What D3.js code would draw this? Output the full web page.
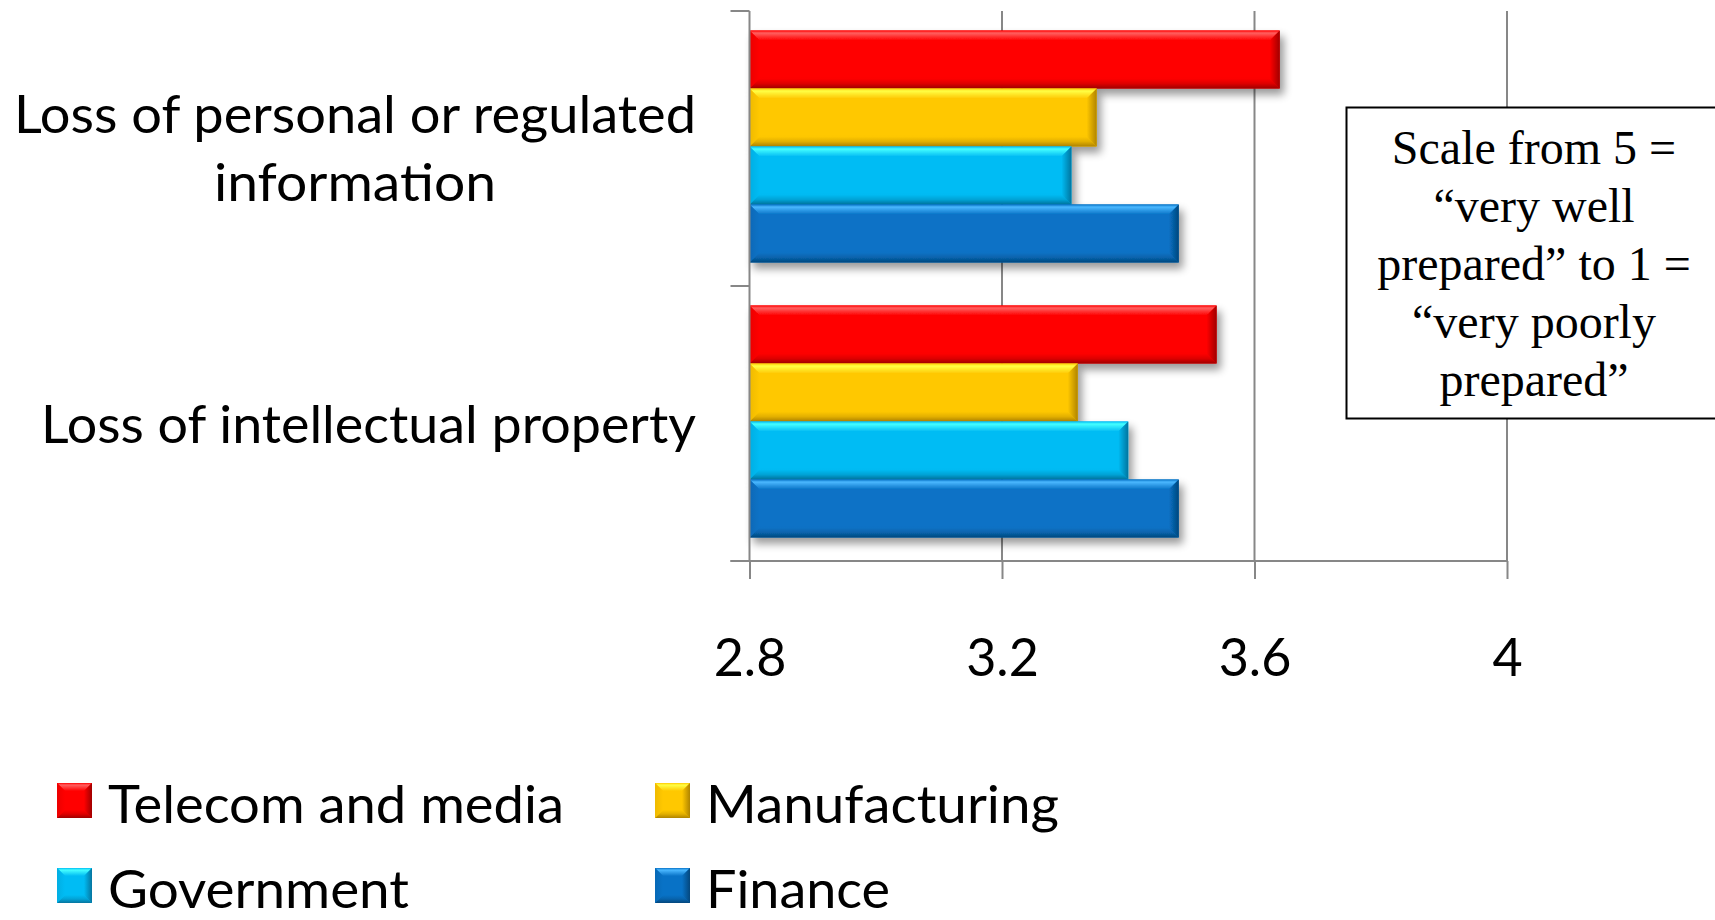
<!DOCTYPE html>
<html>
<head>
<meta charset="utf-8">
<script src="https://cdn.jsdelivr.net/npm/d3@7"></script>
<style>
  html, body { margin: 0; padding: 0; background: #fff; overflow: hidden; }
  text { font-family: Lato, "Open Sans", "Noto Sans", sans-serif; fill: #000; }
</style>
</head>
<body>
<svg id="chart" width="1715" height="920"></svg>
<script>
// ---- data ----
const categories = ["Loss of personal or regulated information", "Loss of intellectual property"];
const categoryLines = [["Loss of personal or regulated", "information"], ["Loss of intellectual property"]];
const series = ["Telecom and media", "Manufacturing", "Government", "Finance"];
const telecom = [3.64, 3.54];
const manufacturing = [3.35, 3.32];
const government = [3.31, 3.40];
const finance = [3.48, 3.48];
const xTicks = [2.8, 3.2, 3.6, 4];
const noteLines = ["Scale from 5 =", "\u201Cvery well", "prepared\u201D to 1 =", "\u201Cvery poorly", "prepared\u201D"];

const seriesValues = [telecom, manufacturing, government, finance];

// ---- look ----
const palette = [
  { base: "#FF0000", light: "#FF6060", dark: "#A00000" },
  { base: "#FFC800", light: "#FFFF45", dark: "#B08400" },
  { base: "#00BCF4", light: "#45FFFF", dark: "#06759F" },
  { base: "#0872C6", light: "#4BB8FF", dark: "#04477D" }
];
const gridColor = "#878787";
const labelSize = 52;

const svg = d3.select("#chart");
const defs = svg.append("defs");

// soft drop shadow under the bars
const f = defs.append("filter").attr("id", "shadow")
  .attr("x", "-5%").attr("y", "-20%").attr("width", "115%").attr("height", "150%");
f.append("feGaussianBlur").attr("in", "SourceAlpha").attr("stdDeviation", 4);
f.append("feOffset").attr("dx", 4).attr("dy", 6).attr("result", "off");
f.append("feComponentTransfer").append("feFuncA").attr("type", "linear").attr("slope", 0.4);
const fm = f.append("feMerge");
fm.append("feMergeNode");
fm.append("feMergeNode").attr("in", "SourceGraphic");

// bevel gradients per series
function grad(id, stops, horizontal) {
  const g = defs.append("linearGradient").attr("id", id)
    .attr("x1", 0).attr("y1", 0)
    .attr("x2", horizontal ? 1 : 0).attr("y2", horizontal ? 0 : 1);
  stops.forEach(([o, c]) => g.append("stop").attr("offset", o).attr("stop-color", c));
}
palette.forEach((p, i) => {
  const mid = d3.interpolateRgb(p.base, p.dark)(0.35);
  grad(`top${i}`, [[0, p.base], [0.25, p.light], [1, p.base]], false);
  grad(`bot${i}`, [[0, p.base], [0.5, mid], [1, p.dark]], false);
  grad(`rgt${i}`, [[0, p.base], [1, p.dark]], true);
  grad(`lft${i}`, [[0, d3.interpolateRgb(p.base, p.dark)(0.2)], [1, p.base]], true);
  grad(`body${i}`, [[0, p.base], [0.8, p.base], [1, d3.interpolateRgb(p.base, p.dark)(0.25)]], false);
});

// beveled rectangle: body plus four trapezoid facets
function bevelRect(g, x0, y0, w, h, b, i) {
  const x1 = x0 + w, y1 = y0 + h;
  g.append("rect").attr("x", x0).attr("y", y0).attr("width", w).attr("height", h)
    .attr("fill", `url(#body${i})`);
  const facets = [
    { pts: [[x0, y0], [x1, y0], [x1 - b, y0 + b], [x0 + b, y0 + b]], fill: `url(#top${i})` },
    { pts: [[x0, y1], [x1, y1], [x1 - b, y1 - b], [x0 + b, y1 - b]], fill: `url(#bot${i})` },
    { pts: [[x1, y0], [x1, y1], [x1 - b, y1 - b], [x1 - b, y0 + b]], fill: `url(#rgt${i})` },
    { pts: [[x0, y0], [x0, y1], [x0 + b, y1 - b], [x0 + b, y0 + b]], fill: `url(#lft${i})` }
  ];
  facets.forEach(fc => g.append("polygon")
    .attr("points", fc.pts.map(p => p.join(",")).join(" "))
    .attr("fill", fc.fill));
}

// ---- scales ----
const plotTop = 11, plotBottom = 561;
const x = d3.scaleLinear().domain([2.8, 4]).range([749.5, 1507]);
const y = d3.scaleBand().domain(categories).range([plotTop, plotBottom]);
const groupOffset = 19.5, groupHeight = 232;
const ySub = d3.scaleBand().domain(series).range([0, groupHeight]);

// ---- gridlines ----
svg.append("g").selectAll("line").data(xTicks.slice(1)).join("line")
  .attr("x1", d => x(d)).attr("x2", d => x(d))
  .attr("y1", plotTop).attr("y2", plotBottom)
  .attr("stroke", gridColor).attr("stroke-width", 2);

// ---- bars ----
categories.forEach((cat, ci) => {
  series.forEach((s, si) => {
    const v = seriesValues[si][ci];
    const g = svg.append("g").attr("filter", "url(#shadow)");
    bevelRect(g, x(2.8), y(cat) + groupOffset + ySub(s),
      x(v) - x(2.8), ySub.bandwidth(), 10, si);
  });
});

// ---- axes ----
const xAxis = d3.axisBottom(x).tickValues(xTicks).tickSize(18).tickFormat(d3.format("~g"));
const gx = svg.append("g").attr("transform", `translate(0,${plotBottom})`).call(xAxis);
gx.select(".domain").remove();
gx.selectAll(".tick line").attr("stroke", gridColor).attr("stroke-width", 2);
gx.selectAll(".tick text").attr("y", 115).attr("dy", 0)
  .style("font-size", labelSize + "px").style("font-family", "Lato, sans-serif").attr("fill", "#000");
svg.append("line").attr("x1", x(2.8) - 19).attr("x2", x(4))
  .attr("y1", plotBottom).attr("y2", plotBottom)
  .attr("stroke", gridColor).attr("stroke-width", 2);

const yTicks = [plotTop, y(categories[1]), plotBottom];
svg.append("line").attr("x1", x(2.8)).attr("x2", x(2.8))
  .attr("y1", plotTop).attr("y2", plotBottom)
  .attr("stroke", gridColor).attr("stroke-width", 2);
svg.append("g").selectAll("line").data(yTicks).join("line")
  .attr("x1", x(2.8) - 19).attr("x2", x(2.8)).attr("y1", d => d).attr("y2", d => d)
  .attr("stroke", gridColor).attr("stroke-width", 2);

// ---- category labels ----
const labelRight = 696, lineGap = 68;
const labelWidths = [[682, 282], [655]];
categoryLines.forEach((lines, ci) => {
  const center = y(categories[ci]) + y.bandwidth() / 2;
  const widest = d3.max(labelWidths[ci]);
  const cx = labelRight - widest / 2;
  const firstBase = center + 19 - (lines.length - 1) * lineGap / 2 - (lines.length > 1 ? 1 : 0);
  lines.forEach((ln, li) => {
    svg.append("text")
      .attr("x", cx).attr("y", firstBase + li * lineGap)
      .attr("text-anchor", "middle")
      .attr("textLength", labelWidths[ci][li]).attr("lengthAdjust", "spacingAndGlyphs")
      .style("font-size", labelSize + "px")
      .text(ln);
  });
});

// ---- note box ----
const note = svg.append("g");
note.append("rect").attr("x", 1346.5).attr("y", 107.5).attr("width", 420).attr("height", 311)
  .attr("fill", "#fff").attr("stroke", "#000").attr("stroke-width", 2);
note.selectAll("text").data(noteLines).join("text")
  .attr("x", 1534).attr("y", (d, i) => 164 + i * 58)
  .attr("text-anchor", "middle")
  .style("font-family", "'Liberation Serif', 'Times New Roman', serif")
  .style("font-size", "48px")
  .text(d => d);

// ---- legend ----
const legendCols = [57, 655], legendRows = [783, 868], keySize = 35;
const legendWidths = [456, 353, 301, 184];
series.forEach((s, si) => {
  const lx = legendCols[si % 2], ly = legendRows[Math.floor(si / 2)];
  const g = svg.append("g");
  bevelRect(g, lx, ly, keySize, keySize, 8, si);
  svg.append("text")
    .attr("x", lx + 51).attr("y", ly + 40)
    .attr("textLength", legendWidths[si]).attr("lengthAdjust", "spacingAndGlyphs")
    .style("font-size", labelSize + "px")
    .text(s);
});
</script>
</body>
</html>
